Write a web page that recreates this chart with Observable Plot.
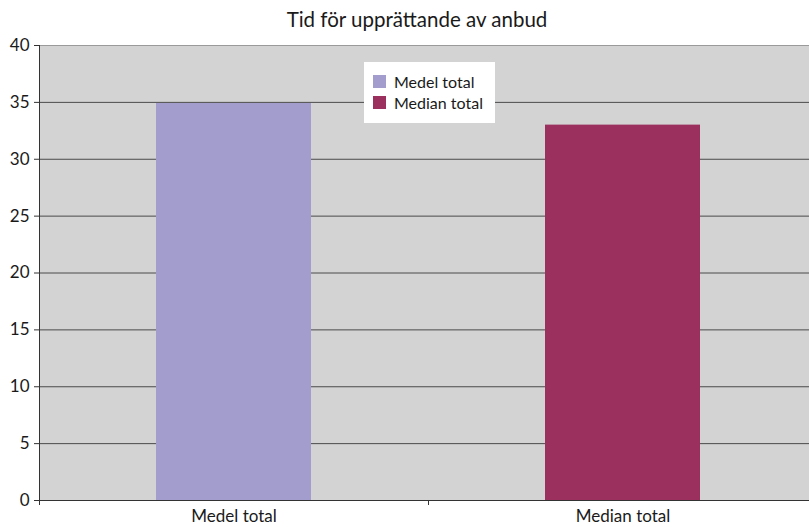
<!DOCTYPE html>
<html>
<head>
<meta charset="utf-8">
<script src="https://cdn.jsdelivr.net/npm/d3@7"></script>
<script src="https://cdn.jsdelivr.net/npm/@observablehq/plot@0.6"></script>
<style>
  html, body { margin: 0; padding: 0; background: #fff; overflow: hidden; }
  body { width: 809px; height: 527px; position: relative; font-family: Lato, "Noto Sans", sans-serif; color: #1a1a1a; }
  #title { position: absolute; top: 6px; left: 417px; transform: translateX(-50%); font-size: 20.5px; white-space: nowrap; line-height: 26px; }
  #chart { position: absolute; top: 30px; left: 0; }
  #chart svg { max-width: none !important; }
  #legend { position: absolute; left: 364px; top: 62px; width: 131px; height: 61px; background: #fff; box-sizing: border-box; padding: 9px 0 0 9px; font-size: 16px; }
  #legend .item { display: flex; align-items: center; height: 21px; }
  #legend .sw { width: 13px; height: 13px; margin-right: 8px; }
</style>
</head>
<body>
<div id="title">Tid för upprättande av anbud</div>
<div id="chart"></div>
<div id="legend"></div>
<script>
// Categories and their values (days)
const categories = ["Medel total", "Median total"];
const values = [34.9, 33];
const colors = ["#a29dcc", "#9b2f5d"];
const yTicks = [0, 5, 10, 15, 20, 25, 30, 35, 40];

const data = categories.map((c, i) => ({category: c, value: values[i]}));

// Short tick marks on the category axis, placed on the band boundaries
function bandBoundaryTicks(index, scales, values, dims) {
  const x = scales.x;
  const bw = scales.scales.x.bandwidth;
  const xs = categories.map(c => x(c));
  xs.push(x(categories[categories.length - 1]) + bw);
  const y0 = dims.height - dims.marginBottom;
  const g = d3.create("svg:g").attr("stroke", "#333").attr("stroke-width", 1);
  for (const px of xs) {
    g.append("line")
      .attr("x1", Math.round(px) + 0.5).attr("x2", Math.round(px) + 0.5)
      .attr("y1", y0).attr("y2", y0 + 5);
  }
  return g.node();
}

const chart = Plot.plot({
  width: 817,
  height: 497,
  marginTop: 15,
  marginBottom: 27,
  marginLeft: 39,
  marginRight: 0,
  style: {fontFamily: "Lato, 'Noto Sans', sans-serif", fontSize: "17px", color: "#1a1a1a", background: "transparent", maxWidth: "none"},
  x: {domain: categories, padding: 0, label: null},
  y: {domain: [0, 40], label: null},
  color: {domain: categories, range: colors},
  marks: [
    Plot.frame({fill: "#d3d3d3", stroke: null}),
    Plot.ruleY(yTicks.filter(t => t > 0 && t < 40), {stroke: "#4a4a4a", strokeWidth: 1}),
    Plot.ruleY([40], {stroke: "#9a9a9a", strokeWidth: 1}),
    Plot.barY(data, {x: "category", y: "value", fill: "category", insetLeft: 117, insetRight: 117}),
    Plot.ruleY([0], {stroke: "#333", strokeWidth: 1}),
    Plot.frame({anchor: "left", stroke: "#333"}),
    Plot.axisY({ticks: yTicks, tickSize: 5, tickPadding: 5, stroke: "#333", fontSize: 17, label: null}),
    Plot.axisX({tickSize: 0, tickPadding: 9, fontSize: 17, label: null}),
    bandBoundaryTicks
  ]
});
chart.style.maxWidth = "none";
document.getElementById("chart").append(chart);

// Legend built from the same color scale
const color = chart.scale("color");
const legend = document.getElementById("legend");
categories.forEach((c, i) => {
  const item = document.createElement("div");
  item.className = "item";
  const sw = document.createElement("div");
  sw.className = "sw";
  sw.style.background = color.range[i];
  const t = document.createElement("span");
  t.textContent = c;
  item.append(sw, t);
  legend.append(item);
});
</script>
</body>
</html>
